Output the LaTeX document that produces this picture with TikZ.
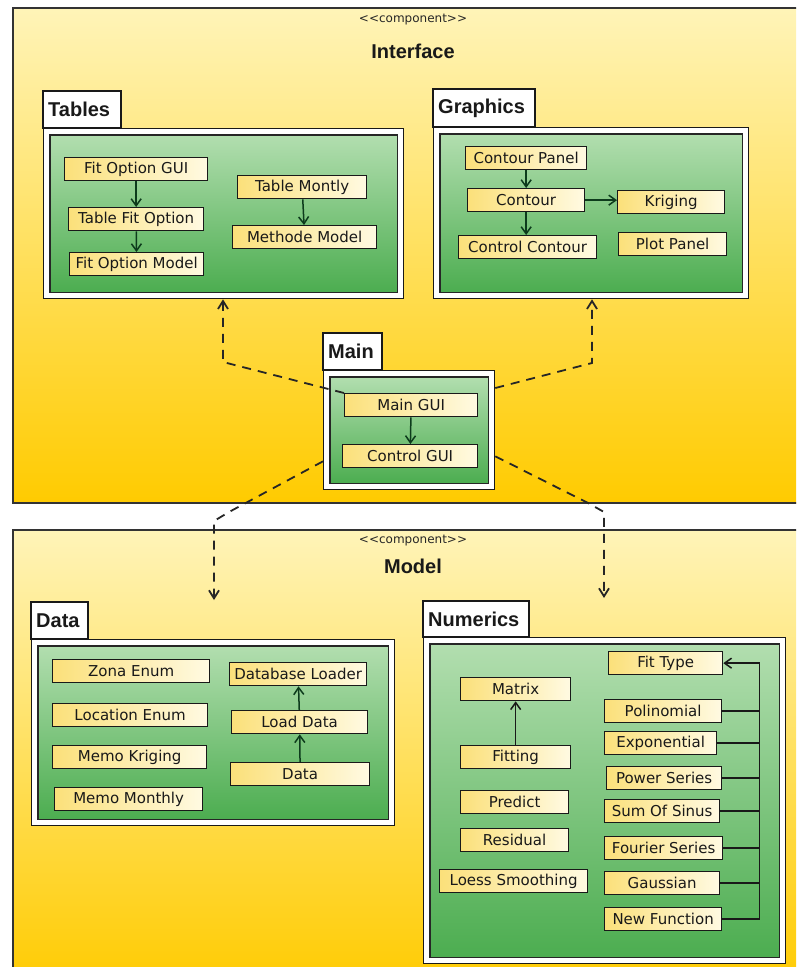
\documentclass[tikz,border=0pt]{standalone}
\usepackage{fontspec}
\setmainfont{DejaVu Sans}
\newfontfamily\headfont{Liberation Sans}
\usetikzlibrary{arrows.meta,calc}

\definecolor{compTop}{HTML}{FFF4B8}
\definecolor{compBot}{HTML}{FFCB00}
\definecolor{greenTop}{HTML}{B2DEAF}
\definecolor{greenBot}{HTML}{4CAD50}
\definecolor{clsDark}{HTML}{FBE07A}
\definecolor{clsLight}{HTML}{FFFAE2}
\definecolor{arrowGreen}{HTML}{0D3B1C}

\tikzset{
  comp/.style={draw=black!80, line width=1.3pt, top color=compTop, bottom color=compBot},
  pkgtab/.style={draw=black!90, fill=white, line width=1.3pt},
  pkgbody/.style={draw=black!90, fill=white, line width=1.3pt, anchor=north west, inner sep=0},
  pkggreen/.style={draw=black!85, line width=1.3pt, top color=greenTop, bottom color=greenBot},
  pkgname/.style={anchor=west, inner sep=0, text=black!90, font=\headfont\bfseries\fontsize{20}{24}\selectfont},
  stereo/.style={inner sep=0, text=black!85, font=\fontsize{12}{14}\selectfont},
  compname/.style={inner sep=0, text=black!90, font=\headfont\bfseries\fontsize{20}{24}\selectfont},
  cls/.style={draw=black!90, line width=1.3pt, anchor=north west, minimum height=23, inner sep=0,
    left color=clsDark, right color=clsLight, text=black!90, font=\fontsize{15}{18}\selectfont},
  uses/.style={draw=arrowGreen, line width=1.5pt, -{Straight Barb[length=7pt,width=10pt]}},
  gen/.style={draw=black!90, line width=1.5pt},
  dep/.style={draw=black!85, line width=1.8pt, dash pattern=on 9pt off 7pt,
    -{Straight Barb[length=8pt,width=10pt]}}
}

% package: name, title, x1, y tab, x tab, y body, x2, y2
\newcommand{\umlpackage}[8]{
  \draw[pkgtab] (#3,#4) rectangle (#5,#6);
  \node[pkgname] (#1-name) at ({#3+5},{(#4+#6)/2}) {#2};
  \node[pkgbody, minimum width={#7-#3}, minimum height={#8-#6}] (#1) at (#3,#6) {};
  \draw[pkggreen] ($(#1.north west)+(7,7)$) rectangle ($(#1.south east)+(-7,-7)$);
}

\begin{document}
\begin{tikzpicture}[x=1pt, y=-1pt]
\useasboundingbox (0,0) rectangle (796,967);
\clip (0,0) rectangle (796,967);
\fill[white] (0,0) rectangle (796,967);

% components
\draw[comp] (13,8) rectangle (813,503);
\node[stereo] (iface-st) at (413,20) {<{}<component>{}>};
\node[compname] (iface) at (413,51) {Interface};
\draw[comp] (13,530) rectangle (813,990);
\node[stereo] (model-st) at (413,541) {<{}<component>{}>};
\node[compname] (model) at (413,566) {Model};

% packages
\umlpackage{tables}{Tables}{43}{91}{121}{128}{403}{298}
\umlpackage{graphics}{Graphics}{433}{89}{535}{127}{748}{298}
\umlpackage{main}{Main}{323}{333}{382}{370}{494}{489}
\umlpackage{data}{Data}{31}{602}{88}{639}{394}{825}
\umlpackage{numerics}{Numerics}{423}{601}{529}{637}{785}{963}

% classes
\foreach \id/\x/\y/\w/\txt in {
  fitgui/64/157/143/Fit Option GUI, tablefit/68/207/135/Table Fit Option,
  fitmodel/69/252/134/Fit Option Model, tablemontly/237/175/129/Table Montly,
  methode/232/225/144/Methode Model,
  cpanel/465/146/121/Contour Panel, contour/467/188/117/Contour,
  ctrlcontour/458/235/138/Control Contour, kriging/617/190/107/Kriging,
  plotpanel/618/232/108/Plot Panel,
  maingui/344/393/133/Main GUI, controlgui/342/444/135/Control GUI,
  zona/52/659/157/Zona Enum, location/52/703/155/Location Enum,
  memokrig/52/745/154/Memo Kriging, memomonth/54/787/148/Memo Monthly,
  dbloader/229/662/137/Database Loader, loaddata/231/710/136/Load Data,
  data/230/762/139/Data,
  fittype/608/651/114/Fit Type, matrix/460/677/110/Matrix,
  poli/604/699/117/Polinomial, expo/604/731/112/Exponential,
  fitting/460/745/110/Fitting, power/606/766/115/Power Series,
  sumsin/604/799/115/Sum Of Sinus, predict/460/790/108/Predict,
  residual/460/828/108/Residual, fourier/604/836/118/Fourier Series,
  loess/439/869/148/Loess Smoothing, gauss/604/871/115/Gaussian,
  newfunc/604/907/117/New Function}
  \node[cls, minimum width=\w] (\id) at (\x,\y) {\txt};

% associations
\draw[uses] (fitgui) -- (tablefit);
\draw[uses] (tablefit) -- (fitmodel);
\draw[uses] (tablemontly) -- (methode);
\draw[uses] (cpanel) -- (contour);
\draw[uses] (contour.south) -- (contour.south |- ctrlcontour.north);
\draw[uses] (contour.east) -- (contour.east -| kriging.west);
\draw[uses] (maingui) -- (controlgui);
\draw[uses] (data) -- (loaddata);
\draw[uses] (loaddata) -- (dbloader);
\draw[uses, draw=black!90] (fitting) -- (matrix);

% generalization into FitType
\path (fittype.east) ++(36,0) coordinate (bus);
\draw[gen, -{Straight Barb[length=7pt,width=10pt]}] (newfunc.east) -| (bus) -- (fittype.east);
\foreach \c in {poli,expo,power,sumsin,fourier,gauss}
  \draw[gen] (\c.east) -- (\c.east -| bus);

% dependencies
\coordinate (d1) at (223,362);
\coordinate (d2) at (592,363);
\coordinate (toData) at (214,600);
\coordinate (toNum) at (604,598);
\draw[dep] (maingui.north west) -- (d1) -- (d1 |- tables.south);
\draw[dep] ($(main.north east)+(0,18)$) -- (d2) -- (d2 |- graphics.south);
\draw[dep] ($(main.south west)+(0,-29)$) -- (229,512) -- (214,521) -- (toData);
\draw[dep] ($(main.south east)+(0,-34)$) -- (588,503) -- (604,512) -- (toNum);
\end{tikzpicture}
\end{document}
